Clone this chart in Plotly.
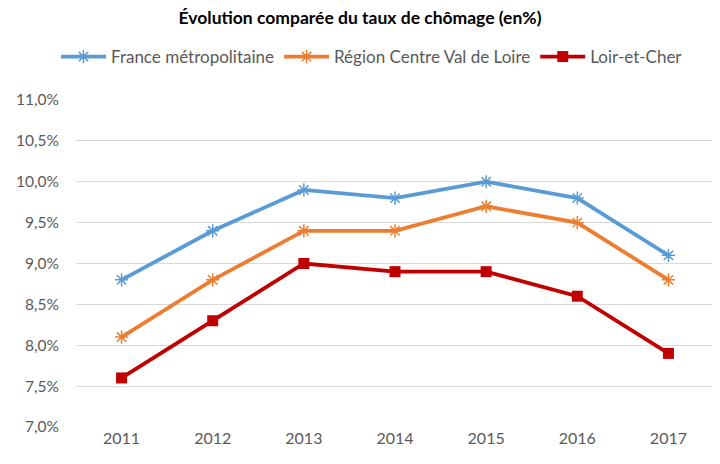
import plotly.graph_objects as go

years = ["2011", "2012", "2013", "2014", "2015", "2016", "2017"]
france = [8.8, 9.4, 9.9, 9.8, 10.0, 9.8, 9.1]
centre = [8.1, 8.8, 9.4, 9.4, 9.7, 9.5, 8.8]
loir = [7.6, 8.3, 9.0, 8.9, 8.9, 8.6, 7.9]

names = ["France métropolitaine", "Région Centre Val de Loire", "Loir-et-Cher"]
colors = ["#5B9BD5", "#ED7D31", "#C00000"]

fig = go.Figure()
fig.add_trace(go.Scatter(x=years, y=france, name=names[0], mode="lines+markers",
                         line=dict(color=colors[0], width=3.8),
                         marker=dict(symbol="asterisk-open", size=11, color=colors[0],
                                     line=dict(color=colors[0], width=1.5))))
fig.add_trace(go.Scatter(x=years, y=centre, name=names[1], mode="lines+markers",
                         line=dict(color=colors[1], width=3.8),
                         marker=dict(symbol="asterisk-open", size=11, color=colors[1],
                                     line=dict(color=colors[1], width=1.5))))
fig.add_trace(go.Scatter(x=years, y=loir, name=names[2], mode="lines+markers",
                         line=dict(color=colors[2], width=3.8),
                         marker=dict(symbol="square", size=11, color=colors[2])))

T, B, L, R = 92, 45, 68, 14
PW = 720 - L - R
fig.update_layout(
    width=720, height=464,
    margin=dict(l=L, r=R, t=T, b=B, autoexpand=False),
    paper_bgcolor="white", plot_bgcolor="white",
    separators=", ",
    font=dict(family="Lato, Open Sans, sans-serif", color="#595959", size=16),
    title=dict(text="<b>Évolution comparée du taux de chômage (en%)</b>",
               x=352 / 720, xanchor="center", y=1 - 10 / 464, yanchor="middle",
               font=dict(size=17.5, color="black", family="Lato, sans-serif")),
    legend=dict(orientation="h", x=(364 - L) / PW, xanchor="center",
                y=1 + (T - 49) / (464 - T - B), yanchor="middle", itemwidth=45,
                font=dict(size=17, color="#595959"), traceorder="normal"),
    xaxis=dict(type="category", range=[-0.5, 6.5], showgrid=False, showline=False, ticks="",
               tickfont=dict(size=16, color="#595959")),
    yaxis=dict(range=[7, 11], dtick=0.5, tick0=7, tickformat=".1f", ticksuffix="%",
               showgrid=True, gridcolor="#D9D9D9", gridwidth=1.3, zeroline=False,
               showline=False, ticks="", ticklabelstandoff=16,
               tickfont=dict(size=15.5, color="#595959")),
)

fig.write_html("out.html")
